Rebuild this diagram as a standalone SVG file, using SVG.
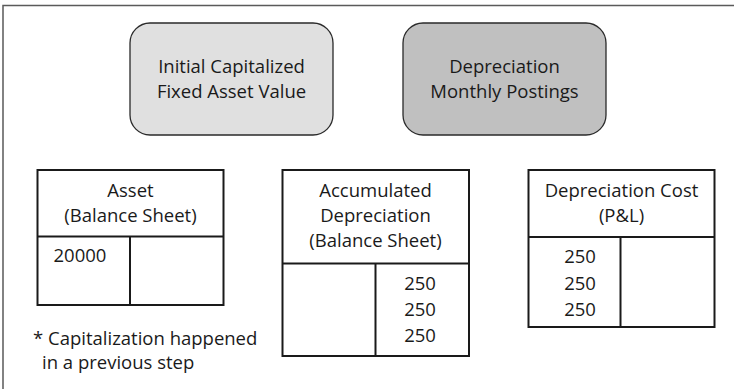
<svg xmlns="http://www.w3.org/2000/svg" width="734" height="389" viewBox="0 0 734 389">
<style>
text{font-family:"Open Sans","Noto Sans",sans-serif;font-size:18.5px;fill:#1a1a1a;}
.c{text-anchor:middle;}
.frame{fill:none;stroke:#5a5a5a;stroke-width:1.5;}
.rbox{stroke:#2a2a2a;stroke-width:1.3;}
.tbl{fill:#fff;stroke:#1a1a1a;stroke-width:2;}
.ln{stroke:#1a1a1a;stroke-width:2;fill:none;}
</style>
<rect x="0" y="0" width="734" height="389" fill="#fff"/>
<path class="frame" d="M3,389 V5.5 H734"/>
<g id="initial-capitalized">
<rect class="rbox" x="130" y="23" width="203" height="112" rx="20" ry="20" fill="#e0e0e0"/>
<text class="c" x="231.5" y="73">Initial Capitalized</text>
<text class="c" x="231.5" y="98">Fixed Asset Value</text>
</g>
<g id="depreciation-postings">
<rect class="rbox" x="403" y="23" width="203" height="112" rx="20" ry="20" fill="#c0c0c0"/>
<text class="c" x="504.5" y="73">Depreciation</text>
<text class="c" x="504.5" y="98">Monthly Postings</text>
</g>
<g id="asset">
<rect class="tbl" x="37.5" y="170" width="186" height="135"/>
<path class="ln" d="M37.5,236.5 H223.5 M130,236.5 V305"/>
<text class="c" x="130.5" y="197">Asset</text>
<text class="c" x="130.5" y="222">(Balance Sheet)</text>
<text class="c" x="80" y="262">20000</text>
</g>
<g id="accumulated-depreciation">
<rect class="tbl" x="282.5" y="170" width="186.5" height="186"/>
<path class="ln" d="M282.5,263.5 H469 M375.5,263.5 V356"/>
<text class="c" x="375.5" y="197">Accumulated</text>
<text class="c" x="375.5" y="222">Depreciation</text>
<text class="c" x="375.5" y="247">(Balance Sheet)</text>
<text class="c" x="420" y="290">250</text>
<text class="c" x="420" y="316">250</text>
<text class="c" x="420" y="342">250</text>
</g>
<g id="depreciation-cost">
<rect class="tbl" x="528.5" y="170" width="186" height="157"/>
<path class="ln" d="M528.5,237 H714.5 M620.5,237 V327"/>
<text class="c" x="621.5" y="197">Depreciation Cost</text>
<text class="c" x="621.5" y="222">(P&amp;L)</text>
<text class="c" x="580" y="263">250</text>
<text class="c" x="580" y="289.5">250</text>
<text class="c" x="580" y="316">250</text>
</g>
<g id="footnote">
<text x="33" y="345">* Capitalization happened</text>
<text x="42" y="369">in a previous step</text>
</g>
<g id="connectors"></g>
</svg>
